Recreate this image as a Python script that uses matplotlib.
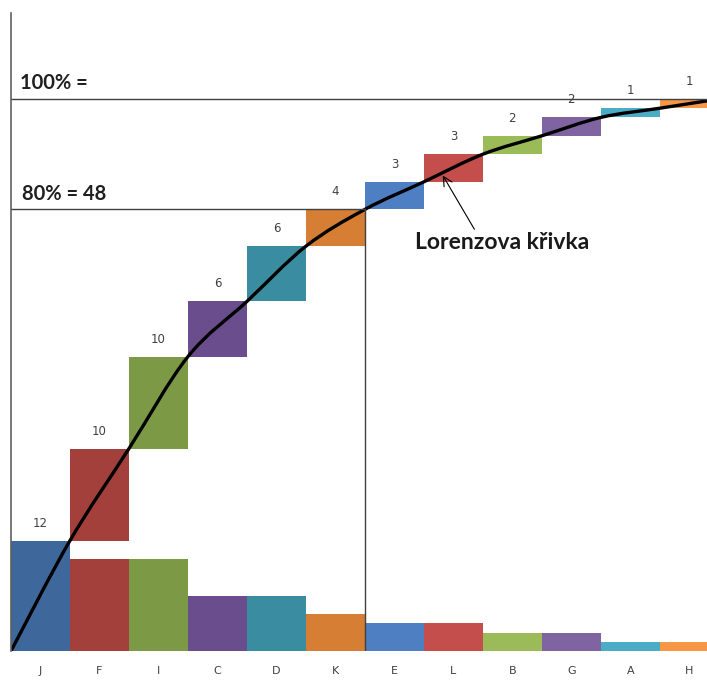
import matplotlib.pyplot as plt
import numpy as np
from matplotlib.path import Path
from matplotlib.patches import PathPatch

categories = ["J", "F", "I", "C", "D", "K", "E", "L", "B", "G", "A", "H"]
values = [12, 10, 10, 6, 6, 4, 3, 3, 2, 2, 1, 1]
colors = ["#3E679C", "#A3403C", "#7C9A46", "#6A4D8C", "#3A8CA1", "#D67E34",
          "#4F7FC3", "#C34E4B", "#9BBB59", "#8064A2", "#4BACC6", "#F79646"]
total_label = "100% ="
pareto_label = "80% = 48"
curve_label = "Lorenzova křivka"

values = np.array(values)
cum = np.cumsum(values)
prev = cum - values
x = np.arange(len(categories))
total = cum[-1]
cut = 6  # number of categories making up 80 %

fig = plt.figure(figsize=(7.07, 6.8), dpi=100)
ax = fig.add_axes([11 / 707, 29 / 680, 696 / 707, 638 / 680])

# plain bars
ax.bar(x, values, width=1.0, color=colors, linewidth=0)
# cumulative (waterfall) bars
ax.bar(x, values, bottom=prev, width=1.0, color=colors, linewidth=0)

for xi, top, v in zip(x, cum, values):
    ax.text(xi, top + 1.2, str(v), ha="center", va="bottom", fontsize=8.5, color="#404040")

# reference lines
ax.plot([-0.5, 12], [total, total], color="#404040", lw=1)
ax.plot([-0.5, cut - 0.5], [cum[cut - 1], cum[cut - 1]], color="#404040", lw=1)
ax.plot([cut - 0.5, cut - 0.5], [0, cum[cut - 1]], color="#404040", lw=1)

ax.text(-0.35, total + 0.6, total_label, fontsize=14.5, fontweight="bold",
        family="Lato", color="#202020", va="bottom")
ax.text(-0.32, cum[cut - 1] + 0.6, pareto_label, fontsize=14.5, fontweight="bold",
        family="Lato", color="#202020", va="bottom")

# Lorenz curve - smooth line through the cumulative points
px = np.concatenate([[-0.5], x + 0.5])
py = np.concatenate([[0], cum])
pts = np.column_stack([px, py])
ext = np.vstack([pts[0], pts, pts[-1]])
verts = [pts[0]]
codes = [Path.MOVETO]
for i in range(len(pts) - 1):
    p0, p1, p2, p3 = ext[i], ext[i + 1], ext[i + 2], ext[i + 3]
    verts += [p1 + (p2 - p0) / 6, p2 - (p3 - p1) / 6, p2]
    codes += [Path.CURVE4] * 3
ax.add_patch(PathPatch(Path(verts, codes), fill=False, edgecolor="black", lw=2.4,
                       capstyle="round", joinstyle="round"))

ax.annotate(curve_label, xy=(6.82, 51.7), xytext=(6.35, 44.4),
            fontsize=16.5, fontweight="bold", family="Lato", color="#1a1a1a",
            va="center", ha="left",
            arrowprops=dict(arrowstyle="->", color="black", lw=0.8,
                            shrinkA=0, shrinkB=0, relpos=(0.35, 1.0)))

ax.set_xlim(-0.5, 11.30)
ax.set_ylim(0, 69.35)
ax.set_xticks(x)
ax.set_xticklabels(categories, fontsize=8, color="#404040")
ax.tick_params(axis="x", length=0, pad=11)
ax.set_yticks([])
for side in ["top", "right", "bottom"]:
    ax.spines[side].set_visible(False)
ax.spines["left"].set_color("#606060")
ax.spines["left"].set_linewidth(1.2)

fig.savefig("out.png", dpi=100)
